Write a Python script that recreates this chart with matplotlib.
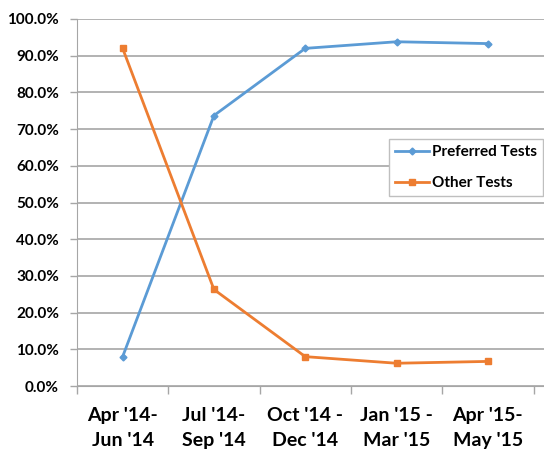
#share of preferred vs other tests per quarter

import matplotlib.pyplot as plt
from matplotlib.ticker import PercentFormatter

quarters = ["Apr '14-\nJun '14", "Jul '14-\nSep '14", "Oct '14 -\nDec '14",
            "Jan '15 -\nMar '15", "Apr '15-\nMay '15"]
preferred = [8.0, 73.7, 92.0, 93.8, 93.3]
other = [92.0, 26.3, 8.0, 6.2, 6.7]

plt.rcParams['font.family'] = ['Lato', 'DejaVu Sans']
plt.rcParams['font.weight'] = 'bold'

fig = plt.figure(figsize=(5.44, 4.54), dpi=100)
# the plot area runs past the right edge of the picture, as in the original
ax = fig.add_axes([77 / 544, 68 / 454, 483 / 544, 367 / 454])

x = list(range(len(quarters)))
ax.plot(x, preferred, marker='D', markersize=3.5, linewidth=2,
        color='#5B9BD5', label='Preferred Tests')
ax.plot(x, other, marker='s', markersize=5, linewidth=2,
        color='#ED7D31', label='Other Tests')

ax.set_ylim(0, 100)
ax.set_yticks(range(0, 101, 10))
ax.yaxis.set_major_formatter(PercentFormatter(decimals=1))
ax.set_xlim(-0.5, -0.5 + 483 / 91.3)
ax.set_xticks(x)
ax.set_xticklabels(quarters, fontsize=14, fontweight='bold', linespacing=1.55)
ax.set_xticks([i - 0.5 for i in range(6)], minor=True)
ax.tick_params(axis='x', which='major', length=0, pad=15)
ax.tick_params(axis='x', which='minor', length=6, color='#A6A6A6', width=1)
ax.tick_params(axis='y', length=5, color='#A6A6A6', width=1, labelsize=11, pad=8)
for t in ax.get_yticklabels():
    t.set_fontweight('bold')

ax.grid(axis='y', color='#A6A6A6', linewidth=1.2)
ax.set_axisbelow(True)
for side in ['top', 'right']:
    ax.spines[side].set_visible(False)
ax.spines['left'].set_color('#A6A6A6')
ax.spines['bottom'].set_color('#A6A6A6')

ax.legend(loc='upper left', bbox_to_anchor=(312 / 483, 1 - 120 / 367),
          frameon=True, fancybox=False, edgecolor='#BFBFBF', framealpha=1,
          fontsize=11, handlelength=2.2, handletextpad=0.2, labelspacing=1.1,
          borderaxespad=0)

plt.savefig('out.png', dpi=100)
